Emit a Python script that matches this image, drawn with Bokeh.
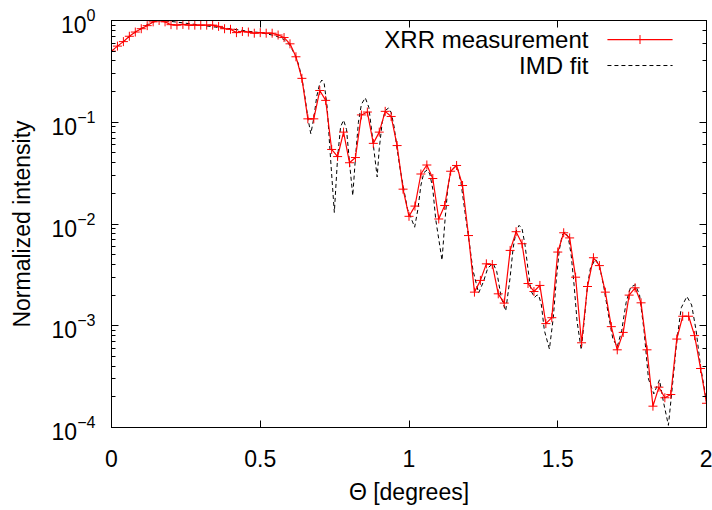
import numpy as np
from bokeh.plotting import figure
from bokeh.models import LinearAxis, LogAxis, SingleIntervalTicker, LogTicker, CustomJSTickFormatter
from bokeh.core.properties import value
from bokeh.embed import file_html
from bokeh.resources import INLINE

# ---- data ----
# XRR measurement, sampled every 0.02 degrees from 0 to 2
meas_intensity = [
    0.50, 0.56, 0.62, 0.70, 0.77, 0.83, 0.89, 0.97, 1.00, 0.97,
    0.91, 0.90, 0.915, 0.90, 0.90, 0.90, 0.90, 0.90, 0.875, 0.83,
    0.82, 0.76, 0.78, 0.77, 0.75, 0.76, 0.75, 0.75, 0.72, 0.68,
    0.59, 0.44, 0.27, 0.108, 0.108, 0.205, 0.164, 0.054, 0.046, 0.080,
    0.040, 0.045, 0.118, 0.126, 0.062, 0.080, 0.128, 0.114, 0.059, 0.022,
    0.0119, 0.0150, 0.031, 0.038, 0.028, 0.0112, 0.0152, 0.033, 0.0376, 0.0239,
    0.0077, 0.00214, 0.00279, 0.00406, 0.0040, 0.00206, 0.00167, 0.0055, 0.0084, 0.0064,
    0.0026, 0.00217, 0.00249, 0.00105, 0.00120, 0.0053, 0.0082, 0.0073, 0.0030, 0.00068,
    0.00243, 0.00466, 0.0039, 0.00214, 0.00098, 0.00058, 0.00086, 0.0020, 0.00236, 0.00168,
    0.00058, 0.000162, 0.000249, 0.000196, 0.000211, 0.00074, 0.00124, 0.00124, 0.0008, 0.00038,
    0.000173,
]
meas_theta = list(np.round(np.arange(len(meas_intensity)) * 0.02, 2))

# IMD fit curve (read at points along the dashed line)
fit_theta = [
    0.00, 0.04, 0.08, 0.12, 0.15, 0.17, 0.20, 0.25, 0.30, 0.35,
    0.40, 0.45, 0.50, 0.55, 0.58, 0.60, 0.62, 0.63, 0.64, 0.65,
    0.66, 0.67, 0.68, 0.69, 0.70, 0.707, 0.715, 0.725, 0.735, 0.749,
    0.76, 0.77, 0.78, 0.79, 0.80, 0.811, 0.82, 0.83, 0.84, 0.853,
    0.865, 0.875, 0.893, 0.90, 0.91, 0.92, 0.931, 0.94, 0.95, 0.96,
    0.97, 0.98, 0.995, 1.019, 1.03, 1.04, 1.05, 1.061, 1.07, 1.08,
    1.09, 1.111, 1.12, 1.13, 1.14, 1.156, 1.165, 1.175, 1.19, 1.20,
    1.215, 1.234, 1.25, 1.265, 1.283, 1.295, 1.31, 1.325, 1.34, 1.35,
    1.36, 1.37, 1.38, 1.39, 1.40, 1.41, 1.422, 1.43, 1.436, 1.445,
    1.455, 1.472, 1.485, 1.495, 1.505, 1.515, 1.524, 1.535, 1.545, 1.555,
    1.565, 1.579, 1.59, 1.60, 1.61, 1.627, 1.64, 1.655, 1.67, 1.685,
    1.70, 1.715, 1.73, 1.745, 1.761, 1.775, 1.79, 1.805, 1.823, 1.842,
    1.855, 1.872, 1.885, 1.90, 1.915, 1.934, 1.95, 1.965, 1.98, 2.00,
]
fit_intensity = [
    0.50, 0.62, 0.77, 0.91, 0.99, 1.00, 0.98, 0.94, 0.90, 0.86,
    0.83, 0.79, 0.76, 0.71, 0.65, 0.57, 0.44, 0.36, 0.27, 0.18,
    0.11, 0.077, 0.11, 0.18, 0.24, 0.26, 0.24, 0.14, 0.05, 0.013,
    0.045, 0.09, 0.105, 0.085, 0.04, 0.019, 0.045, 0.10, 0.15, 0.174,
    0.14, 0.08, 0.029, 0.055, 0.10, 0.13, 0.138, 0.125, 0.09, 0.055,
    0.035, 0.024, 0.014, 0.0093, 0.014, 0.024, 0.032, 0.034, 0.031, 0.022,
    0.011, 0.0044, 0.010, 0.022, 0.033, 0.037, 0.034, 0.025, 0.012, 0.0075,
    0.0035, 0.0021, 0.0027, 0.0037, 0.0041, 0.0034, 0.0019, 0.0014, 0.003, 0.0058,
    0.0085, 0.0097, 0.009, 0.0062, 0.0036, 0.0022, 0.0019, 0.0020, 0.0020, 0.0016,
    0.0009, 0.00059, 0.0012, 0.0028, 0.0055, 0.0078, 0.0084, 0.0075, 0.005, 0.0025,
    0.0011, 0.00058, 0.0012, 0.0025, 0.0037, 0.0045, 0.0039, 0.0024, 0.0013, 0.00075,
    0.00062, 0.0009, 0.0017, 0.0024, 0.00253, 0.002, 0.0009, 0.0003, 0.000214, 0.000294,
    0.00018, 0.000105, 0.00025, 0.0007, 0.0015, 0.00194, 0.0016, 0.0009, 0.0004, 0.00018,
]

series_labels = ["XRR measurement", "IMD fit"]
x_label = "\u0398 [degrees]"
y_label = "Normalized intensity"

FONT = "Liberation Sans"
FS = "23px"
LEG_FS = "24px"

p = figure(
    frame_width=595, frame_height=407,
    min_border_left=111, min_border_right=6, min_border_top=20, min_border_bottom=83,
    x_range=(0, 2), y_range=(1e-4, 1), y_axis_type="log",
    output_backend="svg", toolbar_location=None,
    x_axis_label=x_label, y_axis_label=y_label,
)
p.background_fill_color = "white"
p.border_fill_color = "white"
p.outline_line_color = "black"
p.outline_line_width = 1
p.xgrid.visible = False
p.ygrid.visible = False

# fit (dashed) and measurement
p.line(fit_theta, fit_intensity, line_color="black", line_width=1, line_dash="4 3")
p.line(meas_theta, meas_intensity, line_color="#ff0000", line_width=1.2)
p.scatter(meas_theta, meas_intensity, marker="cross", size=9, line_color="#ff0000", line_width=1)

# axes styling
def style_axis(ax):
    ax.axis_line_color = "black"
    ax.major_tick_line_color = "black"
    ax.minor_tick_line_color = "black"
    ax.major_tick_in = 7
    ax.major_tick_out = 0
    ax.minor_tick_in = 4
    ax.minor_tick_out = 0
    ax.major_label_text_font = FONT
    ax.major_label_text_font_size = FS
    ax.major_label_text_color = "black"
    ax.axis_label_text_font = FONT
    ax.axis_label_text_font_size = FS
    ax.axis_label_text_font_style = "normal"
    ax.axis_label_text_color = "black"

p.xaxis.ticker = SingleIntervalTicker(interval=0.5, num_minor_ticks=0)
style_axis(p.xaxis[0])
p.xaxis.major_label_standoff = 22
p.xaxis.axis_label_standoff = 9
style_axis(p.yaxis[0])
p.yaxis.major_label_standoff = 16
p.yaxis.axis_label_standoff = 14

# mirrored tick marks on top and right (no labels)
blank = CustomJSTickFormatter(code="return '';")
top = LinearAxis(ticker=SingleIntervalTicker(interval=0.5, num_minor_ticks=0), formatter=blank)
style_axis(top)
top.major_label_standoff = 0
p.add_layout(top, "above")
right = LogAxis(ticker=LogTicker(), formatter=CustomJSTickFormatter(code="return '';"))
style_axis(right)
right.major_label_standoff = 0
p.add_layout(right, "right")

# legend drawn gnuplot-style (text right-aligned, sample to its right)
leg_text_x = 1.603
leg_line_x = [1.667, 1.886]
leg_y = [0.65, 0.361]
p.text(x=[leg_text_x, leg_text_x], y=leg_y, text=series_labels,
       text_align="right", text_baseline="middle",
       text_font=value(FONT), text_font_size=LEG_FS, text_color="black")
p.line(leg_line_x, [leg_y[0], leg_y[0]], line_color="#ff0000", line_width=1.2)
p.scatter([sum(leg_line_x) / 2], [leg_y[0]], marker="cross", size=9, line_color="#ff0000", line_width=1)
p.line(leg_line_x, [leg_y[1], leg_y[1]], line_color="black", line_width=1, line_dash="4 3")

open("out.html", "w").write(file_html(p, INLINE))
